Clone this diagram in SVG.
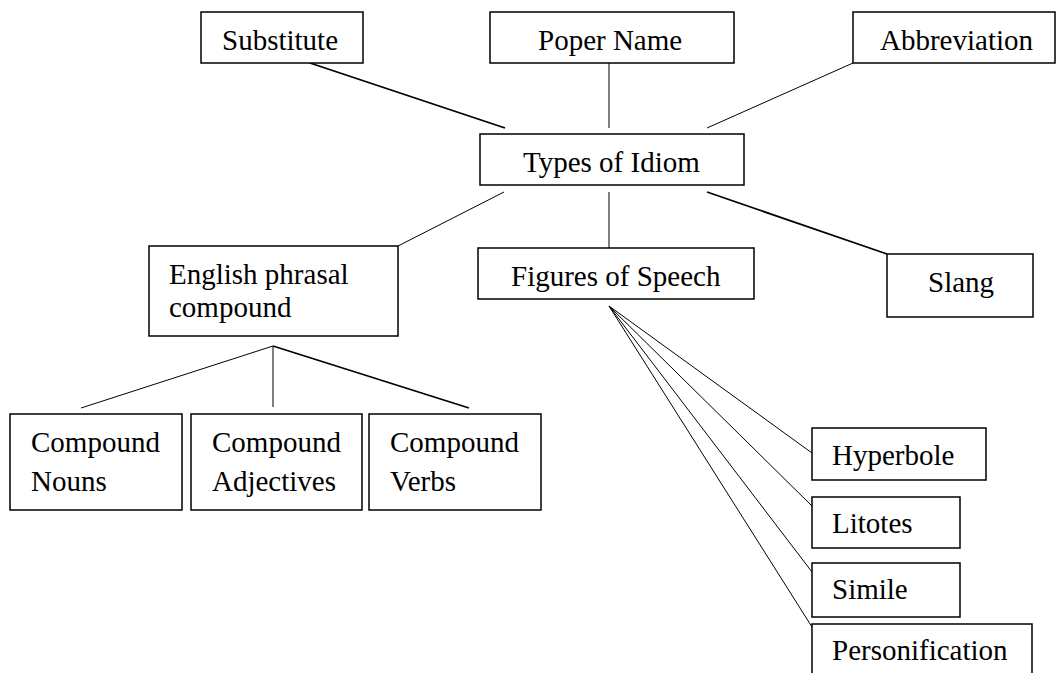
<svg xmlns="http://www.w3.org/2000/svg" width="1057" height="673" viewBox="0 0 1057 673">
<style>
.box{fill:#fff;stroke:#000;stroke-width:1.5}
.t{font-family:"Liberation Serif","Times New Roman",serif;font-size:29px;fill:#000}
.c{stroke:#000;fill:none}
.w1{stroke-width:1}
.w2{stroke-width:1.8}
</style>
<rect width="1057" height="673" fill="#fff"/>
<g id="connectors">
<line class="c w2" x1="310" y1="63" x2="505" y2="128"/>
<line class="c w1" x1="609" y1="63" x2="609" y2="128"/>
<line class="c w1" x1="853" y1="63" x2="707" y2="128"/>
<line class="c w1" x1="504" y1="192" x2="398" y2="246"/>
<line class="c w1" x1="609" y1="192" x2="609" y2="248"/>
<line class="c w2" x1="707" y1="192" x2="887" y2="254"/>
<line class="c w1" x1="273" y1="346" x2="81" y2="408"/>
<line class="c w1" x1="273" y1="346" x2="273" y2="407"/>
<line class="c w2" x1="273" y1="346" x2="469" y2="408"/>
<line class="c w1" x1="609" y1="306" x2="812" y2="453"/>
<line class="c w1" x1="609" y1="306" x2="812" y2="506"/>
<line class="c w1" x1="609" y1="306" x2="812" y2="572"/>
<line class="c w1" x1="609" y1="306" x2="812" y2="627"/>
</g>
<g id="substitute"><rect class="box" x="201" y="12" width="162" height="51"/><text class="t" x="222" y="50">Substitute</text></g>
<g id="poper-name"><rect class="box" x="490" y="12" width="244" height="51"/><text class="t" x="538" y="50">Poper Name</text></g>
<g id="abbreviation"><rect class="box" x="853" y="12" width="202" height="51"/><text class="t" x="880" y="50">Abbreviation</text></g>
<g id="types-of-idiom"><rect class="box" x="480" y="134" width="264" height="51"/><text class="t" x="523" y="172">Types of Idiom</text></g>
<g id="english-phrasal-compound"><rect class="box" x="149" y="246" width="249" height="90"/><text class="t" x="169" y="284">English phrasal</text><text class="t" x="169" y="317">compound</text></g>
<g id="figures-of-speech"><rect class="box" x="478" y="248" width="276" height="51"/><text class="t" x="511" y="286">Figures of Speech</text></g>
<g id="slang"><rect class="box" x="887" y="254" width="146" height="63"/><text class="t" x="928" y="292">Slang</text></g>
<g id="compound-nouns"><rect class="box" x="10" y="414" width="172" height="96"/><text class="t" x="31" y="452">Compound</text><text class="t" x="31" y="491">Nouns</text></g>
<g id="compound-adjectives"><rect class="box" x="191" y="414" width="171" height="96"/><text class="t" x="212" y="452">Compound</text><text class="t" x="212" y="491">Adjectives</text></g>
<g id="compound-verbs"><rect class="box" x="369" y="414" width="172" height="96"/><text class="t" x="390" y="452">Compound</text><text class="t" x="390" y="491">Verbs</text></g>
<g id="hyperbole"><rect class="box" x="812" y="428" width="174" height="52"/><text class="t" x="832" y="465">Hyperbole</text></g>
<g id="litotes"><rect class="box" x="812" y="497" width="148" height="51"/><text class="t" x="832" y="533">Litotes</text></g>
<g id="simile"><rect class="box" x="812" y="563" width="148" height="54"/><text class="t" x="832" y="599">Simile</text></g>
<g id="personification"><rect class="box" x="812" y="624" width="220" height="60"/><text class="t" x="832" y="660">Personification</text></g>
</svg>
